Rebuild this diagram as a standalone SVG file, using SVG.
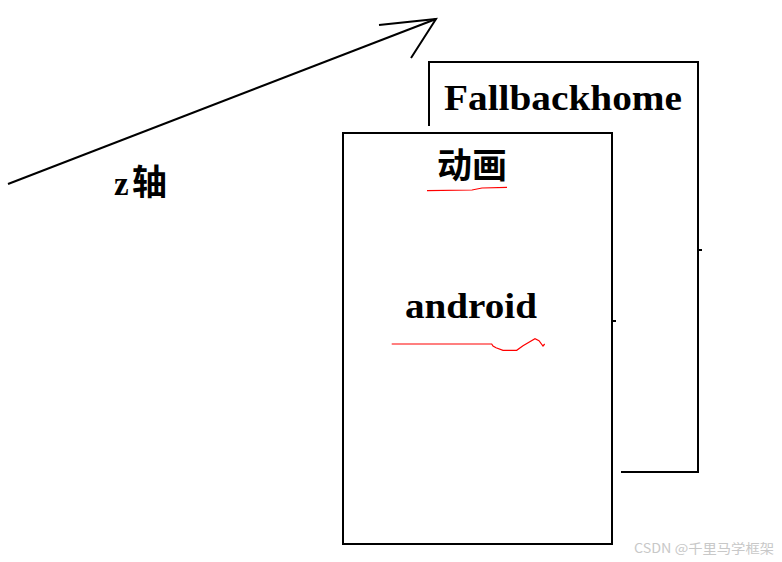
<svg xmlns="http://www.w3.org/2000/svg" width="782" height="562" viewBox="0 0 782 562">
<style>
.box{fill:none;stroke:#000;stroke-width:2}
.ln{fill:none;stroke:#000;stroke-width:2;stroke-linecap:butt}
.serif{font-family:"Liberation Serif","Times New Roman",serif;font-weight:bold;fill:#000}
.cjk{font-family:"Noto Sans CJK SC","Noto Sans",sans-serif;font-weight:bold;fill:#000}
.red{fill:none;stroke:#f00;stroke-width:1.2}
.wm{font-family:"Noto Sans CJK SC","Liberation Sans",sans-serif;fill:#c8c8c8;font-size:13px}
</style>
<rect width="782" height="562" fill="#fff"/>
<g id="connectors">
<line class="ln" x1="8" y1="184" x2="436" y2="19"/>
<polyline class="ln" points="379,25 436,19 411,58"/>
</g>
<g id="z-label">
<text class="serif" x="114" y="195" font-size="33">z</text>
<text class="cjk" x="132" y="195" font-size="35">轴</text>
</g>
<g id="fallbackhome">
<polyline class="box" points="429,126 429,62 698,62 698,472 621,472"/>
<line class="ln" x1="698" y1="250" x2="702" y2="250"/>
<text class="serif" x="444" y="110" font-size="36" textLength="238" lengthAdjust="spacingAndGlyphs">Fallbackhome</text>
</g>
<g id="animation">
<rect class="box" x="343" y="133" width="269" height="411" fill="#fff"/>
<line class="ln" x1="612" y1="321" x2="616" y2="321"/>
<text class="cjk" x="472" y="178" font-size="35" text-anchor="middle">动画</text>
<polyline class="red" points="427,190.7 472,190 482,188 507,187.3"/>
<text class="serif" x="405" y="318" font-size="36" textLength="132" lengthAdjust="spacingAndGlyphs">android</text>
<polyline class="red" points="391.7,344 491.7,344 493,346 496,347.7 503,350.3 516.7,350.3 523,345.7 535,338.7 539,340.7 543,346 544.7,344"/>
</g>
<text class="wm" x="634" y="553" textLength="140" lengthAdjust="spacingAndGlyphs">CSDN @千里马学框架</text>
</svg>
